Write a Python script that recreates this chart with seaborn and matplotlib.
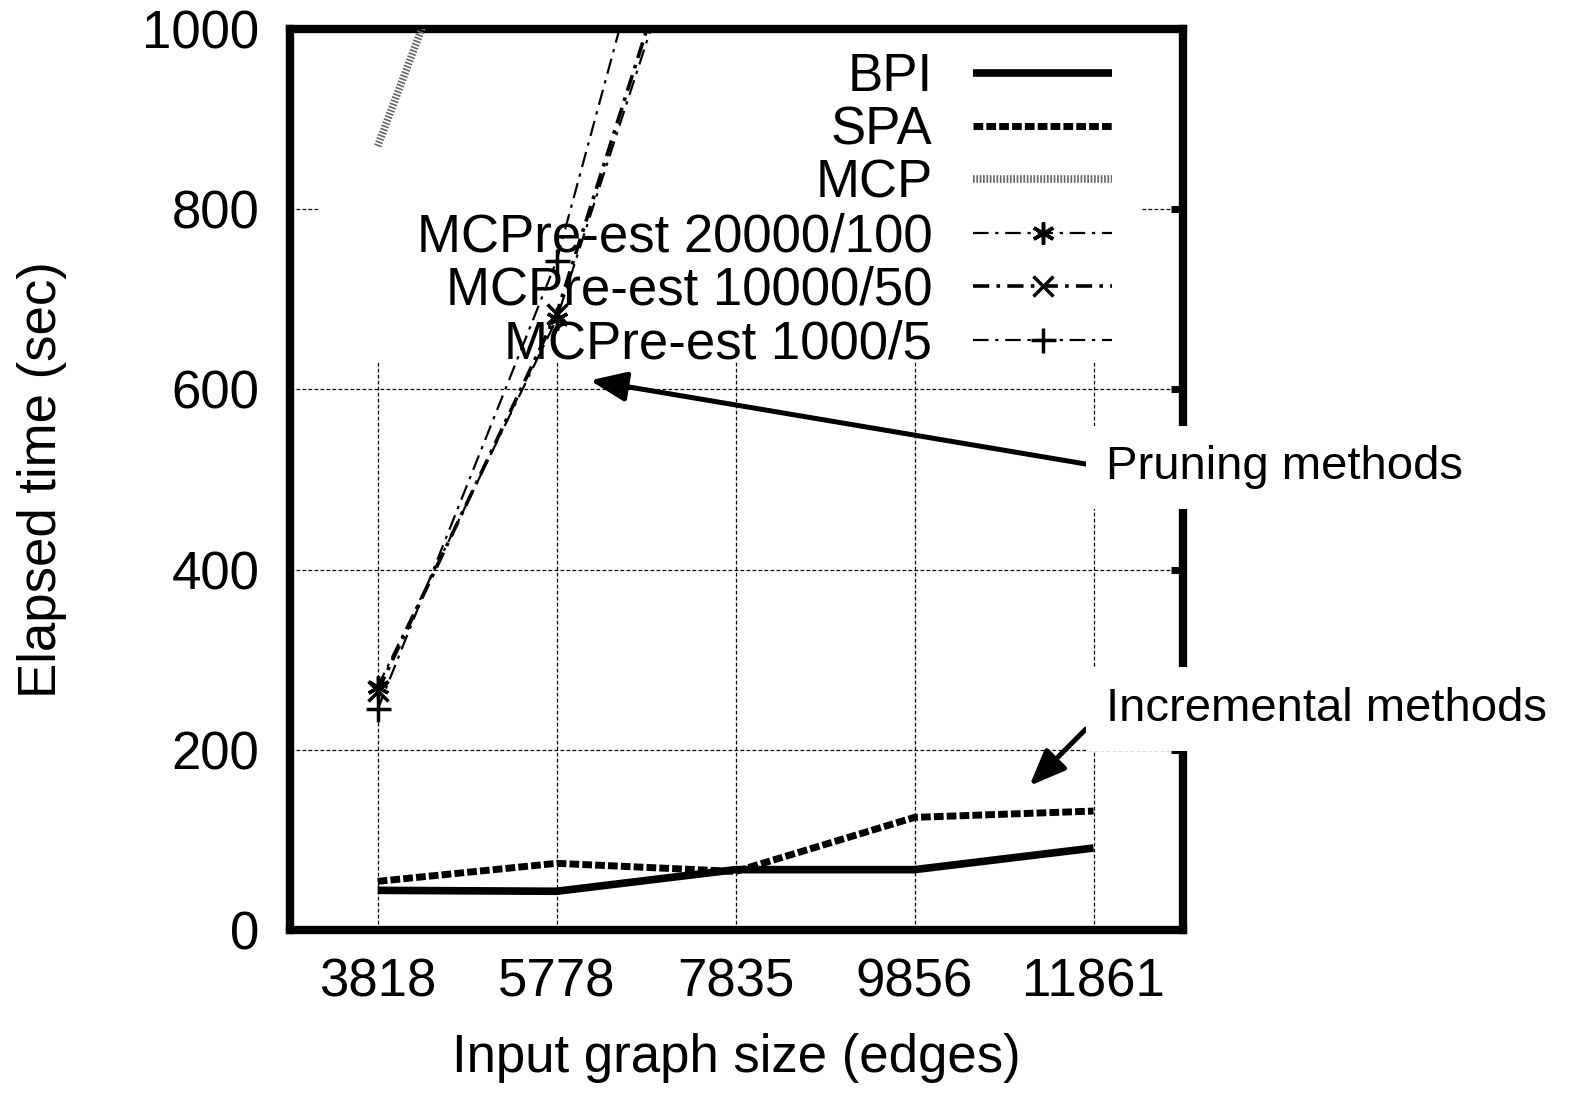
import numpy as np
import pandas as pd
import matplotlib
matplotlib.use("Agg")
import matplotlib.pyplot as plt
from matplotlib.patches import Rectangle
import seaborn as sns

# ---------------- data ----------------
sizes = ["3818", "5778", "7835", "9856", "11861"]
bpi = [44, 43, 67, 67, 91]
spa = [54, 74, 65, 125, 132]
mcp = [870, 1400, np.nan, np.nan, np.nan]
mcpre_20000 = [270, 678, 1290, np.nan, np.nan]
mcpre_10000 = [265, 684, 1310, np.nan, np.nan]
mcpre_1000 = [245, 743, 1475, np.nan, np.nan]
series_names = ["BPI", "SPA", "MCP", "MCPre-est 20000/100",
                "MCPre-est 10000/50", "MCPre-est 1000/5"]
series_values = [bpi, spa, mcp, mcpre_20000, mcpre_10000, mcpre_1000]
yticks = [0, 200, 400, 600, 800, 1000]

# ---------------- style ----------------
sns.set_theme(style="white")
plt.rcParams["font.family"] = ["Liberation Sans", "DejaVu Sans"]
plt.rcParams["axes.unicode_minus"] = False
plt.rcParams["text.color"] = "black"
plt.rcParams["axes.labelcolor"] = "black"
plt.rcParams["xtick.color"] = "black"
plt.rcParams["ytick.color"] = "black"

styles = {
    "BPI": dict(color="black", lw=5.5, linestyle="-", marker=None),
    "SPA": dict(color="black", lw=5.0, linestyle=(0, (1.4, 0.45)), marker=None),
    "MCP": dict(color="#666666", lw=5.5, linestyle=(0, (0.22, 0.22)), marker=None),
    "MCPre-est 20000/100": dict(color="black", lw=1.6, linestyle=(0, (7, 3, 1.5, 3)),
                                marker=(6, 2, 0), ms=16, mew=2.5),
    "MCPre-est 10000/50": dict(color="black", lw=2.6, linestyle=(0, (4.5, 2, 1, 2)),
                               marker="x", ms=14, mew=2.5),
    "MCPre-est 1000/5": dict(color="black", lw=1.6, linestyle=(0, (7, 3, 1.5, 3)),
                             marker="+", ms=18, mew=2.5),
}

fig = plt.figure(figsize=(15.73, 10.93), dpi=100)
ax = fig.add_axes([290 / 1573, 1 - 930 / 1093, (1183 - 290) / 1573, (930 - 29) / 1093])

xpos = np.arange(len(sizes))
for name, vals in zip(series_names, series_values):
    st = styles[name]
    df = pd.DataFrame({"x": xpos, "y": vals}).dropna()
    kw = dict(color=st["color"], lw=st["lw"], linestyle=st["linestyle"],
              dash_capstyle="butt", solid_capstyle="butt", zorder=3)
    if st["marker"] is not None:
        kw.update(marker=st["marker"], markersize=st["ms"], markeredgewidth=st["mew"],
                  markeredgecolor="black", markerfacecolor="black")
    sns.lineplot(data=df, x="x", y="y", ax=ax, label=name, errorbar=None,
                 estimator=None, sort=False, **kw)

# white legend backdrop (gnuplot opaque key)
ax.add_patch(Rectangle((0.034, 0.63), 0.918, 0.37, transform=ax.transAxes,
                       facecolor="white", edgecolor="none", zorder=1.5))

ax.set_xlim(-0.49, 4.5)
ax.set_ylim(0, 1000)
ax.set_xticks(xpos)
ax.set_xticklabels(sizes)
ax.set_yticks(yticks)
ax.set_yticklabels([str(v) for v in yticks])

ax.set_axisbelow(True)
ax.grid(True, color="black", lw=0.9, linestyle=(0, (3, 1.8)))
for s in ax.spines.values():
    s.set_linewidth(6)
    s.set_color("black")
    s.set_visible(True)

ax.tick_params(axis="both", which="major", direction="in", length=9, width=5,
               color="black", labelcolor="black", top=True, right=True, labelsize=38)
ax.tick_params(axis="y", pad=22)
ax.tick_params(axis="x", pad=20)

ax.set_xlabel("Input graph size (edges)", fontsize=38, labelpad=18, color="black")
ax.set_ylabel("Elapsed time (sec)", fontsize=38, labelpad=54, color="black")

handles, labels = ax.get_legend_handles_labels()
leg = ax.legend(handles, labels, loc="upper right", bbox_to_anchor=(0.921, 0.9745),
                frameon=False, fontsize=38, markerfirst=False, borderpad=0,
                handlelength=2.65, handletextpad=0.76, labelspacing=0.065,
                numpoints=1, borderaxespad=0, labelcolor="black")
leg.set_zorder(1.6)

arrow = dict(arrowstyle="-|>,head_length=1.1,head_width=0.45", color="black",
             lw=3.6, mutation_scale=20, shrinkA=0, shrinkB=0, relpos=(0, 0.5))
bbox = dict(boxstyle="square,pad=0.42", fc="white", ec="none")
ax.annotate("Pruning methods", xy=(1.186, 610), xytext=(4.067, 513.5),
            fontsize=34, ha="left", va="center", arrowprops=arrow, bbox=bbox,
            annotation_clip=False, zorder=10, color="black")
ax.annotate("Incremental methods", xy=(3.642, 160), xytext=(4.067, 245),
            fontsize=34, ha="left", va="center", arrowprops=arrow, bbox=bbox,
            annotation_clip=False, zorder=10, color="black")

fig.savefig("out.png", dpi=100, facecolor="white")
